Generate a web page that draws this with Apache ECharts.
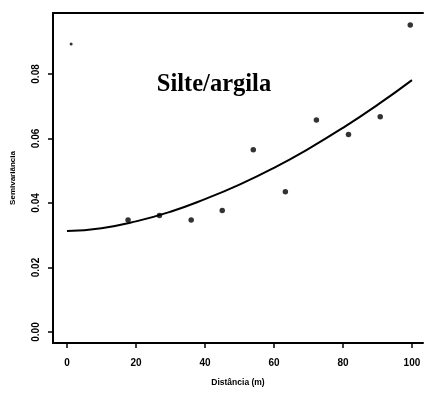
<!DOCTYPE html>
<html>
<head>
<meta charset="utf-8">
<script src="https://cdn.jsdelivr.net/npm/echarts@6/dist/echarts.min.js"></script>
<style>
  html, body { margin: 0; padding: 0; background: #fff; }
  #chart { width: 424px; height: 396px; }
</style>
</head>
<body>
<div id="chart"></div>
<script>
// Experimental semivariogram: lag distance (m) and semivariance
const lagDistance = [17.7, 26.8, 36.0, 45.0, 54.0, 63.3, 72.3, 81.6, 90.8, 99.5];
const semivariance = [0.0347, 0.0361, 0.0347, 0.0377, 0.0565, 0.0435, 0.0657, 0.0612, 0.0667, 0.0952];

// Isolated point near the origin
const nearOriginDistance = [1.2];
const nearOriginValue = [0.0893];

// Fitted model curve
const modelDistance = [0, 10, 20, 30, 40, 50, 60, 70, 80, 90, 100];
const modelValue = [0.0313, 0.0322, 0.0343, 0.0373, 0.0412, 0.0457, 0.0509, 0.0568, 0.0633, 0.0704, 0.0781];

// Tick marks
const xTicks = [0, 20, 40, 60, 80, 100];
const yTicks = [0, 0.02, 0.04, 0.06, 0.08];

const chartTitle = 'Silte/argila';
const xName = 'Distância (m)';
const yName = 'Semivariância';

const toPairs = (xs, ys) => xs.map((x, i) => [x, ys[i]]);

const axisFont = 'Liberation Sans, Arial, sans-serif';

const chart = echarts.init(document.getElementById('chart'), null, { renderer: 'canvas' });
chart.setOption({
  animation: false,
  backgroundColor: '#fff',
  title: {
    text: chartTitle,
    left: 209,
    top: 67,
    textAlign: 'center',
    textStyle: {
      fontFamily: 'Liberation Serif, Times New Roman, serif',
      fontWeight: 'bold',
      fontSize: 24.5,
      color: '#000'
    }
  },
  grid: { left: 53, top: 13, right: 1, bottom: 53 },
  xAxis: [{
    type: 'value',
    position: 'bottom',
    min: -4.06,
    max: 103.2,
    name: xName,
    nameLocation: 'middle',
    nameGap: 35,
    nameTextStyle: { fontFamily: axisFont, fontWeight: 'bold', fontSize: 8.5, color: '#000' },
    splitLine: { show: false },
    axisLine: { show: true, onZero: false, lineStyle: { color: '#000', width: 2 } },
    axisTick: { show: true, customValues: xTicks, length: 5, lineStyle: { color: '#000', width: 1.5 } },
    axisLabel: {
      customValues: xTicks,
      margin: 15,
      fontFamily: axisFont,
      fontWeight: 'bold',
      fontSize: 10,
      color: '#000'
    }
  }, {
    type: 'value',
    position: 'top',
    min: -4.06,
    max: 103.2,
    splitLine: { show: false },
    axisLine: { show: true, onZero: false, lineStyle: { color: '#000', width: 2 } },
    axisTick: { show: false },
    axisLabel: { show: false }
  }],
  yAxis: {
    type: 'value',
    min: -0.00341,
    max: 0.0989,
    name: yName,
    nameLocation: 'middle',
    nameGap: 36,
    nameTextStyle: { fontFamily: axisFont, fontWeight: 'bold', fontSize: 8, color: '#000' },
    splitLine: { show: false },
    axisLine: { show: true, onZero: false, lineStyle: { color: '#000', width: 2 } },
    axisTick: { show: true, customValues: yTicks, length: 5, lineStyle: { color: '#000', width: 1.5 } },
    axisLabel: {
      customValues: yTicks,
      rotate: 90,
      margin: 12,
      fontFamily: axisFont,
      fontWeight: 'bold',
      fontSize: 10,
      color: '#000',
      formatter: v => v.toFixed(2)
    }
  },
  series: [{
    type: 'line',
    data: toPairs(modelDistance, modelValue),
    smooth: true,
    showSymbol: false,
    lineStyle: { color: '#000', width: 2 },
    z: 2
  }, {
    type: 'scatter',
    data: toPairs(lagDistance, semivariance),
    symbol: 'circle',
    symbolSize: 5.5,
    itemStyle: { color: '#000' },
    z: 3
  }, {
    type: 'scatter',
    data: toPairs(nearOriginDistance, nearOriginValue),
    symbol: 'circle',
    symbolSize: 3,
    itemStyle: { color: '#000' },
    z: 3
  }]
});
</script>
</body>
</html>
